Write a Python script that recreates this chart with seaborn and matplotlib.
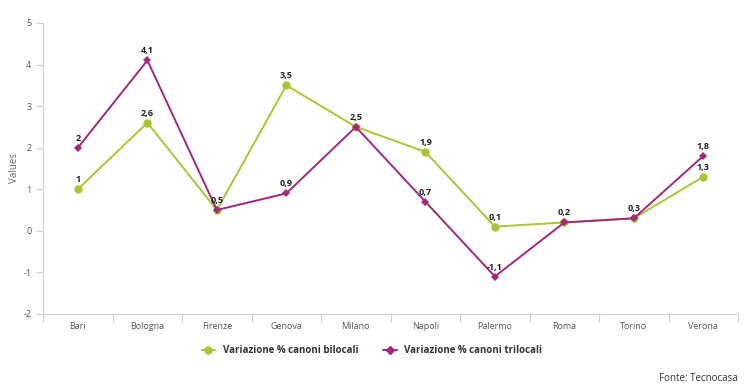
import matplotlib.pyplot as plt
import seaborn as sns
import pandas as pd

cities = ["Bari", "Bologna", "Firenze", "Genova", "Milano",
          "Napoli", "Palermo", "Roma", "Torino", "Verona"]
bilocali = [1, 2.6, 0.5, 3.5, 2.5, 1.9, 0.1, 0.2, 0.3, 1.3]
trilocali = [2, 4.1, 0.5, 0.9, 2.5, 0.7, -1.1, 0.2, 0.3, 1.8]
series_names = ["Variazione % canoni bilocali", "Variazione % canoni trilocali"]
green = "#a8c634"
purple = "#a2277d"

df = pd.DataFrame({
    "city": cities * 2,
    "value": bilocali + trilocali,
    "serie": [series_names[0]] * len(cities) + [series_names[1]] * len(cities),
})

sns.set_style("white")
plt.rcParams["font.family"] = ["Open Sans", "DejaVu Sans"]
plt.rcParams["axes.unicode_minus"] = False

fig = plt.figure(figsize=(7.44, 3.89), dpi=100)
ax = fig.add_axes([0.058, 0.193, 0.934, 0.748])

sns.lineplot(data=df, x="city", y="value", hue="serie", style="serie",
             markers={series_names[0]: "o", series_names[1]: "D"},
             dashes=False, palette=[green, purple], sort=False,
             linewidth=1.4, markeredgewidth=0, ax=ax, legend=False)
# marker sizes per series
for line, ms in zip(ax.lines, [6, 4]):
    line.set_markersize(ms)


def fmt(v):
    return ("%g" % v).replace(".", ",")


for i, (b, t) in enumerate(zip(bilocali, trilocali)):
    vals = [b] if b == t else [b, t]
    for v in vals:
        ax.text(i, v + 0.12, fmt(v), ha="center", va="bottom",
                fontsize=6.5, fontweight="bold", color="#222222")

ax.set_xlim(-0.5, len(cities) - 0.5)
ax.set_ylim(-2, 5)
ax.set_yticks(range(-2, 6))
ax.set_xlabel("")
ax.set_ylabel("Values", fontsize=7, color="#666666", labelpad=2)
ax.set_xticks(range(len(cities)))
ax.set_xticklabels(cities)
ax.set_xticks([i - 0.5 for i in range(len(cities) + 1)], minor=True)
ax.tick_params(axis="x", which="major", length=0, labelsize=6.5,
               labelcolor="#555555", pad=6)
ax.tick_params(axis="x", which="minor", length=6, color="#cccccc", width=0.8)
ax.tick_params(axis="y", length=5, color="#cccccc", width=0.8,
               labelsize=6.5, labelcolor="#555555")
ax.tick_params(bottom=True, left=True, which="both")
for side in ["top", "right"]:
    ax.spines[side].set_visible(False)
for side in ["left", "bottom"]:
    ax.spines[side].set_color("#d0d0d0")
    ax.spines[side].set_linewidth(0.8)

handles = [
    plt.Line2D([], [], color=green, marker="o", markersize=5, linewidth=1.4),
    plt.Line2D([], [], color=purple, marker="D", markersize=4, linewidth=1.4),
]
fig.legend(handles, series_names, loc="center", bbox_to_anchor=(0.5, 0.098),
           ncol=2, frameon=False, handlelength=1.4, columnspacing=2.5,
           prop={"size": 7, "weight": "bold"}, labelcolor="#333333")

fig.text(0.992, 0.028, "Fonte: Tecnocasa", ha="right", va="center",
         fontsize=7, color="#333333")

fig.savefig("out.png", dpi=100)
